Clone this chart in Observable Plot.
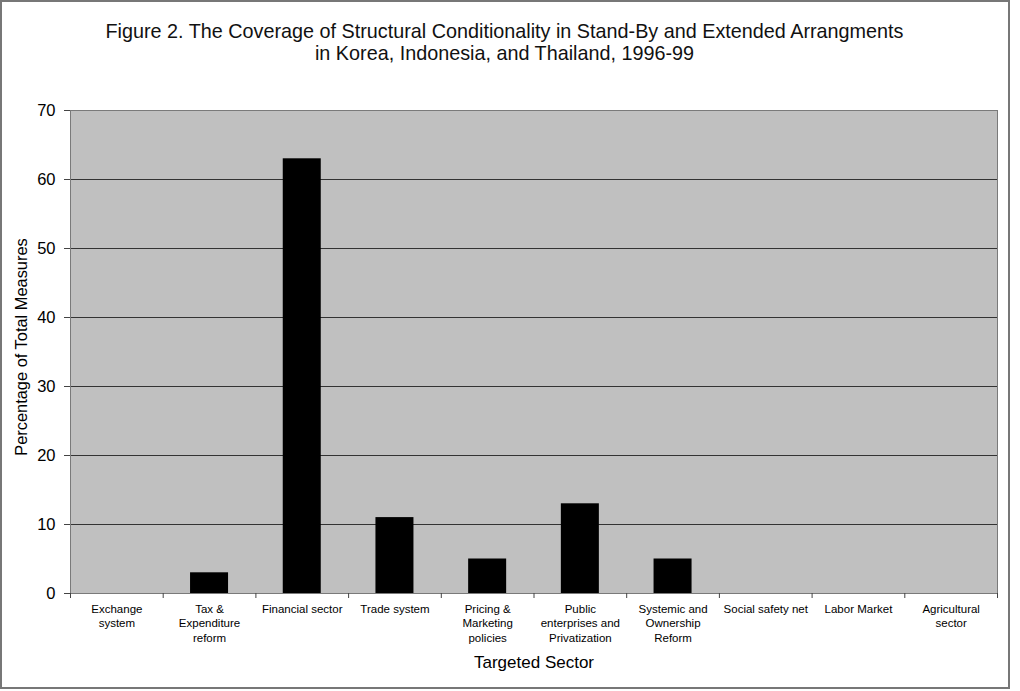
<!DOCTYPE html>
<html><head><meta charset="utf-8">
<script src="https://cdn.jsdelivr.net/npm/d3@7"></script>
<script src="https://cdn.jsdelivr.net/npm/@observablehq/plot@0.6"></script>
<style>
body{margin:0;background:#fff;}
#wrap{position:relative;width:1020px;height:691px;font-family:"Liberation Sans",Arial,sans-serif;}
#border{position:absolute;left:0;top:0;width:1010px;height:689px;box-sizing:border-box;border:2px solid #777;}
#title{position:absolute;left:0;top:20px;width:1009px;text-align:center;font-size:19.8px;line-height:22px;color:#111;}
#chart{position:absolute;left:0;top:0;}
</style></head>
<body><div id="wrap"><div id="border"></div><div id="chart"></div><div id="title">Figure 2. The Coverage of Structural Conditionality in Stand-By and Extended Arrangments<br>in Korea, Indonesia, and Thailand, 1996-99</div></div>
<script>
const sectors = ["Exchange system","Tax & Expenditure reform","Financial sector","Trade system","Pricing & Marketing policies","Public enterprises and Privatization","Systemic and Ownership Reform","Social safety net","Labor Market","Agricultural sector"];
const sectorLabels = ["Exchange\nsystem","Tax &\nExpenditure\nreform","Financial sector","Trade system","Pricing &\nMarketing\npolicies","Public\nenterprises and\nPrivatization","Systemic and\nOwnership\nReform","Social safety net","Labor Market","Agricultural\nsector"];
const percentages = [0,3,63,11,5,13,5,0,0,0];
const yTicks = [0,10,20,30,40,50,60,70];
const gridTicks = [10,20,30,40,50,60];

const rows = sectors.map((s,i)=>({sector:s, pct:percentages[i]}));
const labelOf = Object.fromEntries(sectors.map((s,i)=>[s, sectorLabels[i]]));
const W=1020,H=691,ML=70,MR=23,MT=110,MB=98;
const step=(W-ML-MR)/sectors.length;

const chart = Plot.plot({
  width:W, height:H, marginLeft:ML, marginRight:MR, marginTop:MT, marginBottom:MB,
  style:{fontFamily:"Liberation Sans, Arial, sans-serif", background:"transparent", color:"#000"},
  x:{domain:sectors, paddingInner:0.59, paddingOuter:0.295, round:false, label:null},
  y:{domain:[0,70], label:null},
  marks:[
    Plot.frame({fill:"#c0c0c0"}),
    Plot.gridY(gridTicks, {stroke:"#333", strokeOpacity:1}),
    Plot.barY(rows, {x:"sector", y:"pct", fill:"#000"}),
    Plot.frame({stroke:"#7a7a7a"}),
    Plot.axisY(yTicks, {tickSize:6, tickPadding:9, fontSize:16.5, stroke:"#444", label:null}),
    Plot.axisX({tickSize:0, tickPadding:9, fontSize:11.5, lineHeight:1.27, tickFormat:d=>labelOf[d], label:null}),
    Plot.axisX({tickSize:5, tickFormat:()=>"", dx:step/2, stroke:"#444", label:null}),
    Plot.axisX([sectors[0]], {tickSize:5, tickFormat:()=>"", dx:-step/2, stroke:"#444", label:null}),
    Plot.text(["Percentage of Total Measures"], {frameAnchor:"left", textAnchor:"middle", dx:-49, dy:-5, rotate:-90, fontSize:16.4}),
    Plot.text(["Targeted Sector"], {frameAnchor:"bottom", dy:74, fontSize:17})
  ]
});
document.getElementById("chart").appendChild(chart);
</script>
</body></html>
